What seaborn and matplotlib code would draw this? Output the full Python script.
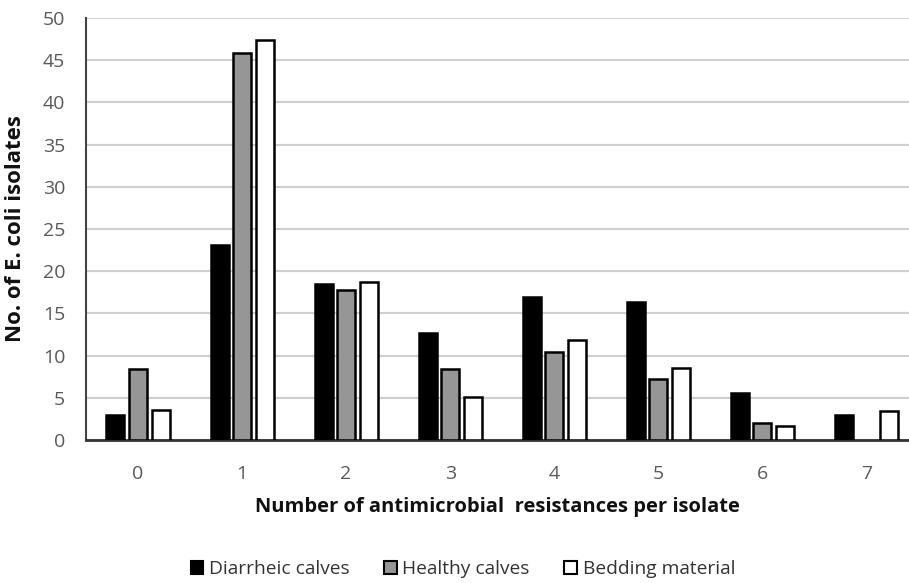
import matplotlib
matplotlib.use("Agg")
import matplotlib.pyplot as plt
from matplotlib.patches import Patch
import seaborn as sns
import pandas as pd

categories = ["0", "1", "2", "3", "4", "5", "6", "7"]
diarrheic = [3.0, 23.1, 18.5, 12.7, 17.0, 16.4, 5.6, 3.0]
healthy = [8.4, 45.9, 17.8, 8.4, 10.4, 7.2, 2.0, 0.0]
bedding = [3.5, 47.4, 18.7, 5.1, 11.9, 8.5, 1.7, 3.4]
series_names = ["Diarrheic calves", "Healthy calves", "Bedding material"]
colors = ["#000000", "#969696", "#ffffff"]

rows = []
for name, vals in zip(series_names, [diarrheic, healthy, bedding]):
    for c, v in zip(categories, vals):
        rows.append({"cat": c, "series": name, "value": v})
df = pd.DataFrame(rows)

sns.set_theme(style="white")
plt.rcParams["font.family"] = ["Open Sans", "DejaVu Sans"]

fig = plt.figure(figsize=(9.09, 5.83), dpi=100)
ax = fig.add_axes([86/909, 1-440/583, 1-86/909, (440-18)/583])

sns.barplot(data=df, x="cat", y="value", hue="series", hue_order=series_names,
            palette=colors, order=categories, width=0.65, gap=0.2,
            edgecolor="black", linewidth=1.8, ax=ax, legend=False, zorder=3)
for p in ax.patches:
    if p.get_height() == 0:
        p.set_linewidth(0)

ax.set_ylim(0, 50)
ax.set_yticks(range(0, 51, 5))
ax.set_xlim(-0.5, 7.41)
ax.yaxis.grid(True, color="#cfcfcf", linewidth=1.5, zorder=0)
ax.set_axisbelow(True)
for s in ["top", "right"]:
    ax.spines[s].set_visible(False)
ax.spines["left"].set_color("#444444")
ax.spines["bottom"].set_color("#333333")
ax.spines["left"].set_linewidth(1.5)
ax.spines["bottom"].set_linewidth(2.0)
ax.tick_params(axis="both", length=0, labelsize=14, colors="#595959")
ax.tick_params(axis="x", pad=18)
ax.tick_params(axis="y", pad=15)
ax.set_xlabel("Number of antimicrobial  resistances per isolate", fontsize=14.5,
              fontweight="bold", labelpad=10, color="#111111")
ax.set_ylabel("No. of E. coli isolates", fontsize=16, fontweight="bold",
              labelpad=12, color="#111111")

handles = [Patch(facecolor=c, edgecolor="black", linewidth=1.5) for c in colors]
fig.legend(handles, series_names, loc="center", bbox_to_anchor=(463/909, 1-569/583),
           ncol=3, frameon=False, fontsize=13.8, handlelength=0.65, handleheight=0.65,
           columnspacing=1.8, handletextpad=0.3, labelcolor="#333333")

fig.savefig("out.png", dpi=100)
